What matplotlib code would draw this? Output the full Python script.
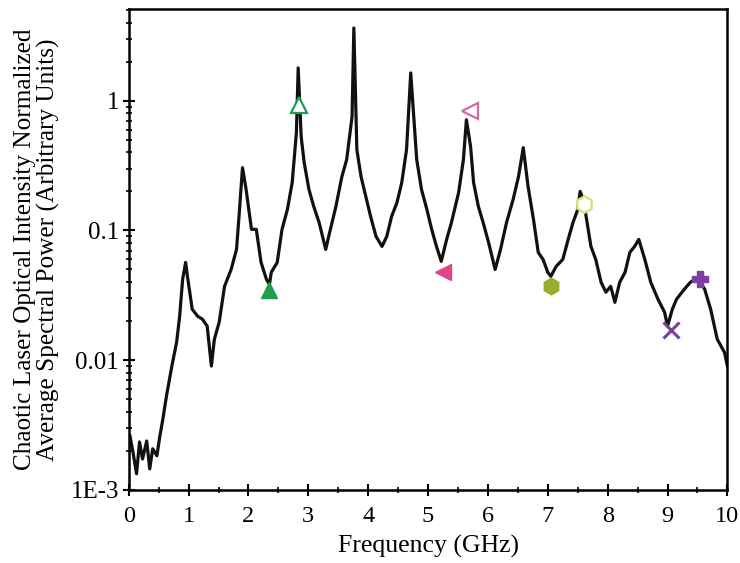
import numpy as np
import matplotlib.pyplot as plt
from matplotlib.ticker import FixedLocator, LogLocator, MultipleLocator, NullFormatter

plt.rcParams['font.family'] = ['Liberation Serif', 'DejaVu Serif']

# Spectrum (GHz, arbitrary units)
freq = [0.02, 0.07, 0.13, 0.18, 0.23, 0.30, 0.35, 0.40, 0.47, 0.52,
        0.57, 0.63, 0.72, 0.80, 0.85, 0.90, 0.95, 0.98, 1.06, 1.15,
        1.23, 1.31, 1.38, 1.43, 1.51, 1.60, 1.71, 1.80, 1.85, 1.90,
        1.96, 2.05, 2.13, 2.21, 2.30, 2.35, 2.38, 2.48, 2.56, 2.65,
        2.73, 2.80, 2.83, 2.88, 2.93, 3.01, 3.09, 3.18, 3.29, 3.34,
        3.46, 3.56, 3.64, 3.73, 3.76, 3.81, 3.88, 3.96, 4.04, 4.13,
        4.23, 4.31, 4.39, 4.48, 4.56, 4.64, 4.71, 4.76, 4.81, 4.89,
        4.98, 5.06, 5.14, 5.22, 5.31, 5.39, 5.51, 5.59, 5.64, 5.71,
        5.76, 5.84, 5.92, 6.01, 6.12, 6.21, 6.31, 6.42, 6.51, 6.59,
        6.67, 6.76, 6.84, 6.92, 7.00, 7.05, 7.14, 7.25, 7.34, 7.42,
        7.50, 7.54, 7.59, 7.64, 7.72, 7.80, 7.89, 7.97, 8.05, 8.12,
        8.20, 8.29, 8.37, 8.45, 8.52, 8.62, 8.72, 8.84, 8.95, 9.00,
        9.08, 9.15, 9.28, 9.38, 9.50, 9.62, 9.72, 9.83, 9.95, 10.00]
power = [0.0026, 0.00196, 0.00133, 0.00234, 0.00173, 0.00238, 0.00145, 0.00207, 0.00183, 0.0026,
         0.00352, 0.00529, 0.0090, 0.0138, 0.0218, 0.042, 0.0567, 0.0443, 0.0247, 0.0218,
         0.0207, 0.0183, 0.0090, 0.0145, 0.0196, 0.0371, 0.050, 0.0714, 0.145, 0.305,
         0.207, 0.102, 0.102, 0.0567, 0.042, 0.0384, 0.0475, 0.0567, 0.102, 0.145,
         0.234, 0.567, 1.79, 0.529, 0.334, 0.207, 0.153, 0.115, 0.0714, 0.090,
         0.153, 0.260, 0.352, 0.753, 3.64, 0.420, 0.260, 0.183, 0.128, 0.090,
         0.0753, 0.090, 0.128, 0.164, 0.234, 0.420, 1.64, 0.753, 0.352, 0.207,
         0.145, 0.102, 0.0753, 0.0578, 0.0853, 0.115, 0.196, 0.352, 0.714, 0.443,
         0.234, 0.153, 0.115, 0.0809, 0.050, 0.0714, 0.115, 0.173, 0.260, 0.435,
         0.218, 0.122, 0.0677, 0.0598, 0.0475, 0.0443, 0.0529, 0.0598, 0.0853, 0.115,
         0.145, 0.200, 0.173, 0.128, 0.0753, 0.0598, 0.0398, 0.0334, 0.0371, 0.0279,
         0.0398, 0.0475, 0.0677, 0.0753, 0.0853, 0.0598, 0.0398, 0.0295, 0.0234, 0.0183,
         0.0247, 0.0295, 0.0352, 0.0398, 0.0435, 0.0352, 0.0247, 0.0145, 0.0115, 0.0090]

# Marked points
mark_freq = [2.35, 2.85, 5.25, 5.70, 7.05, 7.60, 9.05, 9.55]
mark_power = [0.035, 0.93, 0.048, 0.84, 0.037, 0.16, 0.017, 0.042]
mark_shape = ['^', '^', '<', '<', 'h', 'h', 'x', 'P']
mark_color = ['#1f9e50', '#1f9e50', '#e0448a', '#d26aa0', '#9aac2c', '#d6e070', '#7b3fa0', '#7b3fa0']
mark_filled = [True, False, True, False, True, False, True, True]

y_ticks = [1e-3, 0.01, 0.1, 1]
y_labels = ['1E-3', '0.01', '0.1', '1']
x_ticks = list(range(0, 11))

fig = plt.figure(figsize=(7.4, 5.63), dpi=100)
ax = fig.add_axes([0.174, 0.130, 0.809, 0.854])

ax.plot(freq, power, color='#111111', lw=2.3, zorder=2)

for f, p, m, c, filled in zip(mark_freq, mark_power, mark_shape, mark_color, mark_filled):
    if m in ('x', 'P'):
        ax.plot(f, p, marker=m, ms=12, color=c, mew=2.2 if m == 'x' else 1, ls='none', zorder=3)
    elif filled:
        ax.plot(f, p, marker=m, ms=12, color=c, mec=c, ls='none', zorder=3)
    else:
        ax.plot(f, p, marker=m, ms=12, mfc='white', mec=c, mew=1.6, ls='none', zorder=3)

ax.set_yscale('log')
ax.set_xlim(0, 10)
ax.set_ylim(1e-3, 5.1)

ax.xaxis.set_major_locator(FixedLocator(x_ticks))
ax.xaxis.set_minor_locator(MultipleLocator(0.5))
ax.yaxis.set_major_locator(FixedLocator(y_ticks))
ax.set_yticklabels(y_labels)
ax.yaxis.set_minor_locator(LogLocator(base=10, subs=np.arange(2, 10)))
ax.yaxis.set_minor_formatter(NullFormatter())

ax.tick_params(which='major', direction='inout', length=8, width=1.5, labelsize=18, pad=3)
ax.tick_params(which='minor', direction='inout', length=4, width=1.2)
ax.tick_params(axis='x', which='major', pad=8, labelsize=17.5)

for sp in ax.spines.values():
    sp.set_linewidth(1.8)

ax.set_xlabel('Frequency (GHz)', fontsize=18.5, labelpad=5)
ax.set_ylabel('Chaotic Laser Optical Intensity Normalized\nAverage Spectral Power (Arbitrary Units)',
              fontsize=18.2, linespacing=1.05)
ax.yaxis.set_label_coords(-0.115, 0.5)

fig.savefig('out.png', dpi=100)
